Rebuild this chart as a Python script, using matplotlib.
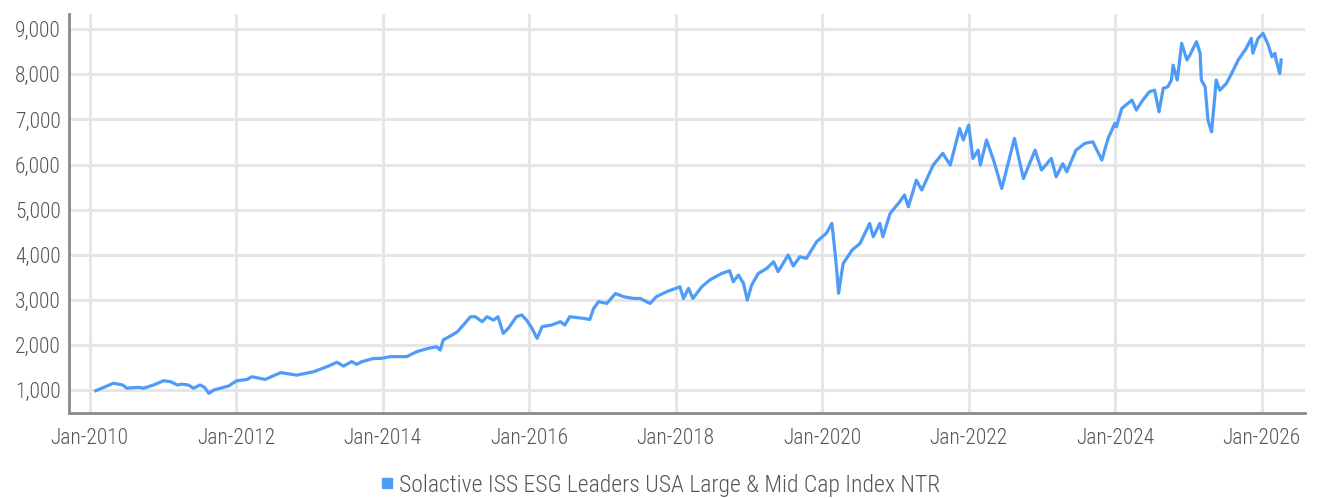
import pandas as pd
import matplotlib
matplotlib.use("Agg")
import matplotlib.pyplot as plt
import matplotlib.dates as mdates
from matplotlib.lines import Line2D
from matplotlib.ticker import FuncFormatter
from matplotlib import font_manager

# values
dates = [
    "2010-02-01", "2010-04-30", "2010-06-15", "2010-07-05", "2010-09-01", "2010-09-27",
    "2010-11-15", "2011-01-05", "2011-02-08", "2011-03-15", "2011-04-05", "2011-05-08",
    "2011-06-03", "2011-07-05", "2011-07-28", "2011-08-18", "2011-09-12", "2011-10-30",
    "2011-11-25", "2012-01-05", "2012-02-25", "2012-03-20", "2012-05-25", "2012-08-10",
    "2012-10-30", "2013-01-22", "2013-03-28", "2013-05-18", "2013-06-20", "2013-07-30",
    "2013-08-25", "2013-09-20", "2013-11-17", "2013-12-20", "2014-02-10", "2014-05-01",
    "2014-06-20", "2014-08-17", "2014-09-26", "2014-10-15", "2014-10-30", "2014-12-13",
    "2015-01-08", "2015-01-30", "2015-03-15", "2015-04-08", "2015-05-12", "2015-06-05",
    "2015-07-08", "2015-07-30", "2015-08-25", "2015-09-20", "2015-10-30", "2015-11-25",
    "2015-12-20", "2016-01-15", "2016-02-10", "2016-03-06", "2016-04-22", "2016-06-05",
    "2016-06-27", "2016-07-22", "2016-09-27", "2016-10-30", "2016-11-18", "2016-12-13",
    "2017-01-22", "2017-03-07", "2017-04-16", "2017-06-06", "2017-07-08", "2017-08-26",
    "2017-09-27", "2017-11-17", "2018-01-01", "2018-01-22", "2018-02-09", "2018-03-06",
    "2018-03-28", "2018-05-11", "2018-06-20", "2018-08-18", "2018-09-27", "2018-10-15",
    "2018-11-10", "2018-12-05", "2018-12-24", "2019-01-15", "2019-02-17", "2019-04-01",
    "2019-05-04", "2019-05-27", "2019-07-16", "2019-08-10", "2019-09-12", "2019-10-15",
    "2019-12-05", "2020-01-22", "2020-02-19", "2020-03-06", "2020-03-14", "2020-03-23",
    "2020-04-15", "2020-05-30", "2020-07-08", "2020-08-25", "2020-09-12", "2020-10-15",
    "2020-10-30", "2020-12-05", "2021-01-22", "2021-02-15", "2021-03-06", "2021-04-15",
    "2021-05-12", "2021-07-08", "2021-08-25", "2021-10-01", "2021-11-17", "2021-12-05",
    "2022-01-01", "2022-01-22", "2022-02-17", "2022-02-28", "2022-03-31", "2022-05-05",
    "2022-06-15", "2022-07-16", "2022-08-17", "2022-10-01", "2022-11-28", "2022-12-30",
    "2023-02-17", "2023-03-13", "2023-04-15", "2023-05-05", "2023-06-20", "2023-08-03",
    "2023-09-12", "2023-10-27", "2023-11-27", "2023-12-31", "2024-01-08", "2024-02-03",
    "2024-03-25", "2024-04-16", "2024-05-18", "2024-06-20", "2024-07-16", "2024-08-07",
    "2024-08-28", "2024-09-20", "2024-10-08", "2024-10-16", "2024-11-06", "2024-11-28",
    "2024-12-24", "2025-01-08", "2025-02-10", "2025-02-28", "2025-03-06", "2025-03-25",
    "2025-04-08", "2025-04-26", "2025-05-12", "2025-05-19", "2025-06-06", "2025-07-09",
    "2025-08-04", "2025-09-06", "2025-10-16", "2025-11-10", "2025-11-18", "2025-12-14",
    "2026-01-08", "2026-02-03", "2026-02-21", "2026-03-08", "2026-03-14", "2026-04-01",
    "2026-04-08",
]
values = [
    985, 1150, 1110, 1040, 1060, 1040,
    1110, 1205, 1185, 1110, 1130, 1110,
    1040, 1110, 1060, 925, 1000, 1060,
    1090, 1205, 1235, 1295, 1235, 1385,
    1330, 1405, 1515, 1615, 1530, 1630,
    1570, 1630, 1700, 1700, 1740, 1740,
    1850, 1925, 1960, 1885, 2110, 2220,
    2290, 2400, 2625, 2625, 2515, 2625,
    2550, 2625, 2255, 2370, 2625, 2665,
    2550, 2370, 2145, 2405, 2440, 2515,
    2440, 2625, 2590, 2565, 2810, 2960,
    2920, 3140, 3070, 3030, 3030, 2920,
    3070, 3180, 3255, 3290, 3030, 3255,
    3030, 3290, 3440, 3585, 3645, 3400,
    3550, 3365, 2995, 3330, 3585, 3700,
    3845, 3625, 3995, 3750, 3955, 3920,
    4290, 4475, 4695, 4030, 3660, 3145,
    3805, 4105, 4250, 4695, 4400, 4695,
    4400, 4915, 5175, 5325, 5065, 5655,
    5435, 5990, 6250, 5990, 6800, 6545,
    6875, 6135, 6320, 5990, 6545, 6100,
    5470, 6020, 6580, 5690, 6320, 5880,
    6135, 5730, 6020, 5840, 6320, 6470,
    6505, 6100, 6580, 6915, 6840, 7245,
    7430, 7210, 7430, 7615, 7650, 7170,
    7690, 7725, 7875, 8205, 7875, 8690,
    8320, 8430, 8725, 8470, 7875, 7725,
    6985, 6725, 7505, 7875, 7650, 7800,
    8020, 8320, 8580, 8800, 8470, 8800,
    8910, 8650, 8390, 8470, 8320, 8020,
    8320,
]
series_name = "Solactive ISS ESG Leaders USA Large & Mid Cap Index NTR"
tick_years = list(range(2010, 2027, 2))
y_ticks = [1000, 2000, 3000, 4000, 5000, 6000, 7000, 8000, 9000]

line_color = "#4f9bf8"
text_color = "#555555"

# pick a narrow face if one is there
installed = {f.name for f in font_manager.fontManager.ttflist}
families = [f for f in ["Roboto Condensed", "Liberation Sans Narrow", "Roboto"] if f in installed]
plt.rcParams["font.family"] = families + ["DejaVu Sans"]
narrow = bool(families) and families[0] != "Roboto"
label_size = 15.5 if narrow else 14.5

fig = plt.figure(figsize=(13.17, 4.98), dpi=100)
ax = fig.add_axes([0.0524, 0.1707, 0.9385, 0.8012])

x = pd.to_datetime(dates)
ax.plot(x, values, color=line_color, lw=2.3, solid_joinstyle="round", zorder=3)

ax.set_xlim(pd.Timestamp("2009-09-20"), pd.Timestamp("2026-08-05"))
ax.set_ylim(490, 9340)
ax.set_xticks([pd.Timestamp(f"{y}-01-01") for y in tick_years])
ax.xaxis.set_major_formatter(mdates.DateFormatter("%b-%Y"))
ax.set_yticks(y_ticks)
ax.yaxis.set_major_formatter(FuncFormatter(lambda v, p: f"{int(v):,}"))

ax.grid(True, color="#e6e6e6", lw=2.2, zorder=0)
ax.set_axisbelow(True)
for s in ["top", "right"]:
    ax.spines[s].set_visible(False)
for s in ["left", "bottom"]:
    ax.spines[s].set_color("#8a8a8a")
    ax.spines[s].set_linewidth(2)
ax.tick_params(axis="both", length=0, labelsize=label_size, colors=text_color)
ax.tick_params(axis="x", pad=11)
ax.tick_params(axis="y", pad=6)
for lbl in ax.get_xticklabels() + ax.get_yticklabels():
    lbl.set_fontweight("light")

handle = Line2D([], [], marker="s", ls="none", color=line_color, markersize=7.5)
leg = fig.legend([handle], [series_name], loc="center", bbox_to_anchor=(0.5, 0.026),
                 frameon=False, fontsize=label_size * 1.1, labelcolor=text_color,
                 handletextpad=0.1, handlelength=0.8)
for t in leg.get_texts():
    t.set_fontweight("light")

fig.savefig("out.png", dpi=100)
